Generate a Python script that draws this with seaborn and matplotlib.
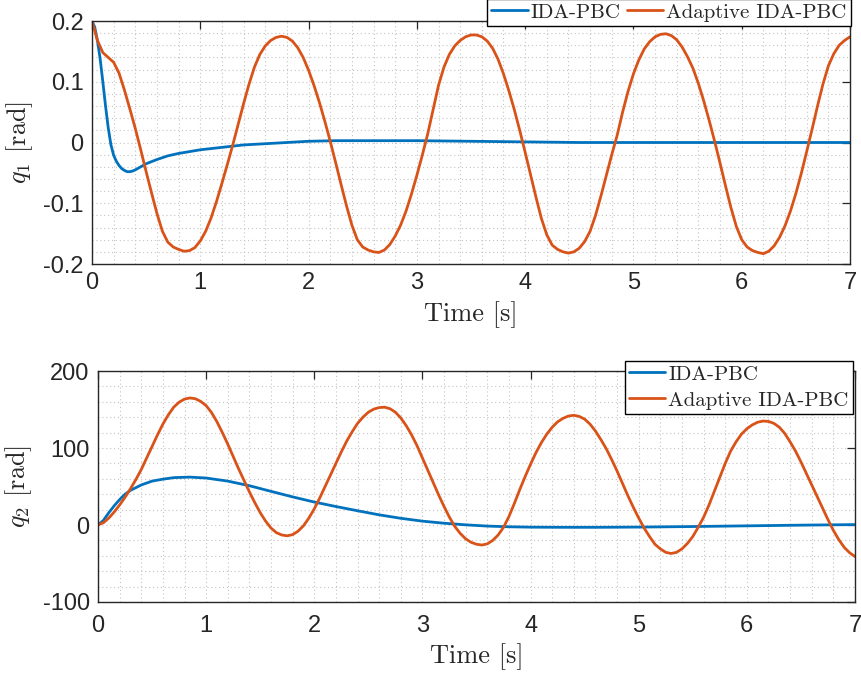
import numpy as np
import pandas as pd
import matplotlib
matplotlib.use("Agg")
import matplotlib.pyplot as plt
import seaborn as sns
from matplotlib.ticker import MultipleLocator, FuncFormatter
from matplotlib.lines import Line2D

# ---------------- data ----------------
labels = ["IDA-PBC", "Adaptive IDA-PBC"]
colors = ["#0072BD", "#D95319"]

# dense time base for the oscillating adaptive responses
t_dense = np.round(np.arange(0, 7.0001, 0.05), 2)

# q1 [rad], IDA-PBC
t_q1_ida = [0.000, 0.025, 0.050, 0.075, 0.100, 0.125, 0.150, 0.175, 0.200,
            0.225, 0.250, 0.275, 0.300, 0.325, 0.350, 0.375, 0.400, 0.450,
            0.500, 0.600, 0.700, 0.800, 0.900, 1.000, 1.200, 1.400, 1.600,
            1.800, 2.000, 2.250, 2.500, 2.750, 3.000, 3.500, 4.000, 4.500,
            5.000, 5.500, 6.000, 6.500, 7.000]
q1_ida = [0.200, 0.190, 0.168, 0.138, 0.100, 0.060, 0.024, -0.004, -0.021,
          -0.031, -0.038, -0.043, -0.046, -0.048, -0.048, -0.047, -0.045,
          -0.040, -0.035, -0.028, -0.022, -0.018, -0.015, -0.012, -0.008,
          -0.004, -0.002, 0.000, 0.002, 0.003, 0.003, 0.003, 0.003, 0.002,
          0.001, 0.000, 0.000, 0.000, 0.000, 0.000, 0.000]

# q1 [rad], adaptive IDA-PBC (one row per 0.5 s, sampled every 0.05 s)
q1_adaptive = [
    0.200, 0.168, 0.148, 0.140, 0.132, 0.114, 0.086, 0.055, 0.023, -0.012,
    -0.048, -0.083, -0.117, -0.146, -0.164, -0.172, -0.176, -0.179, -0.178, -0.173,
    -0.162, -0.146, -0.124, -0.097, -0.067, -0.036, -0.004, 0.030, 0.064, 0.096,
    0.124, 0.145, 0.159, 0.168, 0.173, 0.175, 0.173, 0.167, 0.156, 0.140,
    0.119, 0.094, 0.066, 0.035, 0.002, -0.033, -0.069, -0.104, -0.136, -0.160,
    -0.172, -0.177, -0.180, -0.181, -0.177, -0.168, -0.154, -0.136, -0.113, -0.085,
    -0.054, -0.021, 0.014, 0.054, 0.094, 0.124, 0.145, 0.159, 0.168, 0.174,
    0.177, 0.177, 0.174, 0.167, 0.155, 0.137, 0.113, 0.085, 0.054, 0.020,
    -0.016, -0.053, -0.090, -0.125, -0.152, -0.169, -0.176, -0.180, -0.182, -0.180,
    -0.174, -0.163, -0.146, -0.120, -0.088, -0.054, -0.020, 0.012, 0.050, 0.084,
    0.113, 0.136, 0.154, 0.166, 0.174, 0.178, 0.179, 0.176, 0.169, 0.157,
    0.141, 0.122, 0.097, 0.068, 0.036, 0.002, -0.034, -0.071, -0.107, -0.138,
    -0.160, -0.172, -0.178, -0.181, -0.183, -0.179, -0.170, -0.156, -0.137, -0.113,
    -0.084, -0.051, -0.015, 0.022, 0.060, 0.096, 0.126, 0.146, 0.160, 0.168,
    0.174,
]

# q2 [rad], IDA-PBC
t_q2_ida = [0.00, 0.05, 0.10, 0.15, 0.20, 0.25, 0.30, 0.40, 0.50, 0.60, 0.70,
            0.85, 1.00, 1.20, 1.40, 1.60, 1.80, 2.00, 2.20, 2.40, 2.60, 2.80,
            3.00, 3.20, 3.40, 3.60, 3.80, 4.00, 4.30, 4.60, 5.00, 5.50, 6.00,
            6.50, 7.00]
q2_ida = [0.0, 6.0, 16.0, 25.0, 33.0, 40.0, 45.0, 52.0, 57.0, 59.5, 61.5,
          62.2, 61.0, 57.0, 51.0, 43.7, 36.5, 29.8, 24.0, 18.5, 13.2, 8.7,
          5.0, 2.3, 0.2, -1.4, -2.3, -2.8, -3.0, -3.0, -2.7, -2.0, -1.1,
          -0.2, 0.5]

# q2 [rad], adaptive IDA-PBC (one row per 0.5 s, sampled every 0.05 s)
q2_adaptive = [
    0, 3, 9, 17, 26, 36, 47, 59, 72, 87,
    102, 117, 131, 143, 153, 159.5, 163.5, 165, 164, 160.5,
    155, 146, 134, 120, 105, 89, 73, 58, 43, 29,
    16, 5, -4, -10, -13, -14, -12.5, -8, -1, 9,
    21, 35, 50, 65, 80, 95, 109, 121, 132, 140,
    146.5, 150.5, 152.5, 153, 151, 146.5, 139, 129, 117, 103,
    87, 71, 55, 39, 24, 10, -2, -11, -18, -22.5,
    -25, -26, -24.5, -20, -13, -3, 11, 28, 46, 63,
    79, 94, 107, 118, 127, 134, 138.5, 141.5, 142.5, 141,
    137.5, 131, 122, 111, 99, 85, 70, 54, 38, 23,
    9, -4, -15, -25, -31, -35.5, -37, -35.5, -31, -24,
    -15, -3, 10, 26, 44, 62, 80, 96, 108, 118,
    125, 130, 133.5, 135, 134.5, 132, 127, 119, 108, 96,
    82, 67, 52, 37, 22, 7, -7, -19, -29, -36,
    -41,
]

q1_ticks = [-0.2, -0.1, 0, 0.1, 0.2]
q2_ticks = [-100, 0, 100, 200]
time_ticks = [0, 1, 2, 3, 4, 5, 6, 7]


def frame(t_a, y_a, t_b, y_b):
    return pd.concat([
        pd.DataFrame({"t": t_a, "q": y_a, "ctrl": labels[0]}),
        pd.DataFrame({"t": t_b, "q": y_b, "ctrl": labels[1]}),
    ], ignore_index=True)


df_q1 = frame(t_q1_ida, q1_ida, t_dense, q1_adaptive)
df_q2 = frame(t_q2_ida, q2_ida, t_dense, q2_adaptive)

# ---------------- style ----------------
sns.set_theme(style="white")
plt.rcParams["font.family"] = ["Liberation Sans", "DejaVu Sans"]
plt.rcParams["mathtext.fontset"] = "cm"
plt.rcParams["axes.unicode_minus"] = False

serif = "cmr10"
axis_col = "#262626"
grid_col = "#c4c4c4"

fig = plt.figure(figsize=(8.61, 6.75), dpi=100)
ax1 = fig.add_axes([92 / 861, 1 - 264 / 675, (850 - 92) / 861, (264 - 21) / 675])
ax2 = fig.add_axes([98 / 861, 1 - 602 / 675, (855 - 98) / 861, (602 - 371) / 675])

palette = dict(zip(labels, colors))


def style_axes(ax, yticks, ylim, yminor, ylabel, xpad):
    ax.set_xlim(0, 7)
    ax.set_ylim(*ylim)
    ax.set_xticks(time_ticks)
    ax.set_yticks(yticks)
    ax.xaxis.set_minor_locator(MultipleLocator(0.2))
    ax.yaxis.set_minor_locator(MultipleLocator(yminor))
    ax.yaxis.set_major_formatter(FuncFormatter(lambda v, p: f"{v:g}"))
    ax.xaxis.set_major_formatter(FuncFormatter(lambda v, p: f"{v:g}"))
    for which in ("major", "minor"):
        ax.grid(True, which=which, color=grid_col, linestyle=(0, (1, 2.5)),
                linewidth=0.8)
    ax.set_axisbelow(True)
    ax.tick_params(which="major", direction="in", length=6, width=0.9,
                   top=True, right=True, color=axis_col, labelsize=17,
                   labelcolor="#262626", pad=6)
    ax.tick_params(axis="x", which="major", pad=xpad)
    ax.tick_params(which="minor", length=0, top=True, right=True)
    for s in ax.spines.values():
        s.set_color(axis_col)
        s.set_linewidth(1.0)
    ax.set_xlabel("Time [s]", fontfamily=serif, fontsize=19, labelpad=5)
    ax.set_ylabel(ylabel, fontfamily=serif, fontsize=19, labelpad=6)


sns.lineplot(data=df_q1, x="t", y="q", hue="ctrl", palette=palette, ax=ax1,
             linewidth=2.0, estimator=None, sort=False, legend=False)
sns.lineplot(data=df_q2, x="t", y="q", hue="ctrl", palette=palette, ax=ax2,
             linewidth=2.0, estimator=None, sort=False, legend=False)

style_axes(ax1, q1_ticks, (-0.2, 0.2), 0.02, r"$q_1$ [rad]", 6)
style_axes(ax2, q2_ticks, (-100, 200), 20, r"$q_2$ [rad]", 9)

handles = [Line2D([0], [0], color=c, linewidth=2.0) for c in colors]
leg_kw = dict(prop={"family": serif, "size": 15}, frameon=True, fancybox=False,
              edgecolor="black", framealpha=1, borderaxespad=0, handlelength=1.75,
              handletextpad=0.15, borderpad=0.2)

leg1 = fig.legend(handles, labels, loc="upper right", ncol=2,
                  bbox_to_anchor=(851 / 861, 1 + 1 / 675), columnspacing=0.3,
                  **leg_kw)
leg2 = fig.legend(handles, labels, loc="upper right", ncol=1,
                  bbox_to_anchor=(853 / 861, 1 - 361 / 675), labelspacing=0.35,
                  **leg_kw)
for lg in (leg1, leg2):
    lg.get_frame().set_linewidth(1.0)

fig.savefig("out.png", dpi=100, facecolor="white")
